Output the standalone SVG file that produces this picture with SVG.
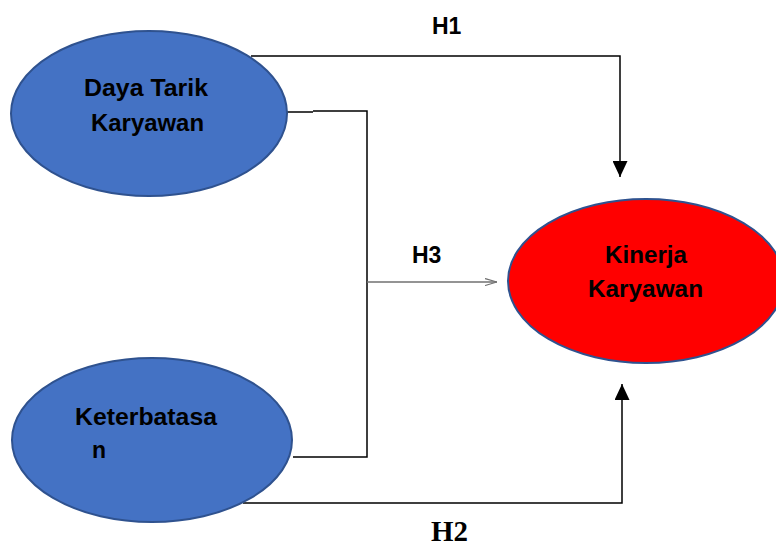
<svg xmlns="http://www.w3.org/2000/svg" width="776" height="546" viewBox="0 0 776 546">
<style>
.node{stroke:#2F528F;stroke-width:2}
.blue{fill:#4472C4}
.red{fill:#FF0000}
.lbl{font-family:"Liberation Sans",Arial,sans-serif;font-weight:bold;font-size:23px;fill:#000}
.h{font-family:"Liberation Sans",Arial,sans-serif;font-weight:bold;font-size:23px;fill:#000}
.hs{font-family:"Liberation Serif","Times New Roman",serif;font-weight:bold;font-size:29px;fill:#000}
.ln{fill:none;stroke:#000;stroke-width:1.5}
</style>
<defs>
<marker id="solid" viewBox="0 0 16 15" refX="16" refY="7.5" markerWidth="16" markerHeight="15" markerUnits="userSpaceOnUse" orient="auto">
<path d="M0,0 L16,7.5 L0,15 Z" fill="#000"/>
</marker>
<marker id="open" viewBox="0 0 12 8" refX="12" refY="4" markerWidth="12" markerHeight="8" markerUnits="userSpaceOnUse" orient="auto">
<path d="M0,0.5 L12,4 L0,7.5" fill="none" stroke="#707070" stroke-width="1.2"/>
</marker>
</defs>
<rect width="776" height="546" fill="#fff"/>
<g id="connectors">
<path class="ln" d="M251,56 H620 V177" stroke="#404040" marker-end="url(#solid)"/>
<path class="ln" d="M287,112 H313" stroke="#555"/>
<path class="ln" d="M313,111 H367 V457 H293"/>
<path d="M367,282 H497" fill="none" stroke="#707070" stroke-width="1.5" marker-end="url(#open)"/>
<path class="ln" d="M243,503 H622 V384" marker-end="url(#solid)"/>
</g>
<g id="daya-tarik">
<ellipse class="node blue" cx="149" cy="113.5" rx="138" ry="82.5"/>
<text class="lbl" x="84" y="96" textLength="124" lengthAdjust="spacingAndGlyphs">Daya Tarik</text>
<text class="lbl" x="91" y="131" textLength="113" lengthAdjust="spacingAndGlyphs">Karyawan</text>
</g>
<g id="keterbatasan">
<ellipse class="node blue" cx="152" cy="440" rx="140" ry="82"/>
<text class="lbl" x="75" y="425" textLength="142" lengthAdjust="spacingAndGlyphs">Keterbatasa</text>
<text class="lbl" x="92" y="458">n</text>
</g>
<g id="kinerja">
<ellipse class="node red" cx="646" cy="281" rx="138" ry="82"/>
<text class="lbl" x="605" y="263" textLength="82" lengthAdjust="spacingAndGlyphs">Kinerja</text>
<text class="lbl" x="588" y="297" textLength="115" lengthAdjust="spacingAndGlyphs">Karyawan</text>
</g>
<g id="labels">
<text class="h" x="432" y="34">H1</text>
<text class="h" x="412" y="263">H3</text>
<text class="hs" x="431" y="541" textLength="37" lengthAdjust="spacingAndGlyphs">H2</text>
</g>
</svg>
